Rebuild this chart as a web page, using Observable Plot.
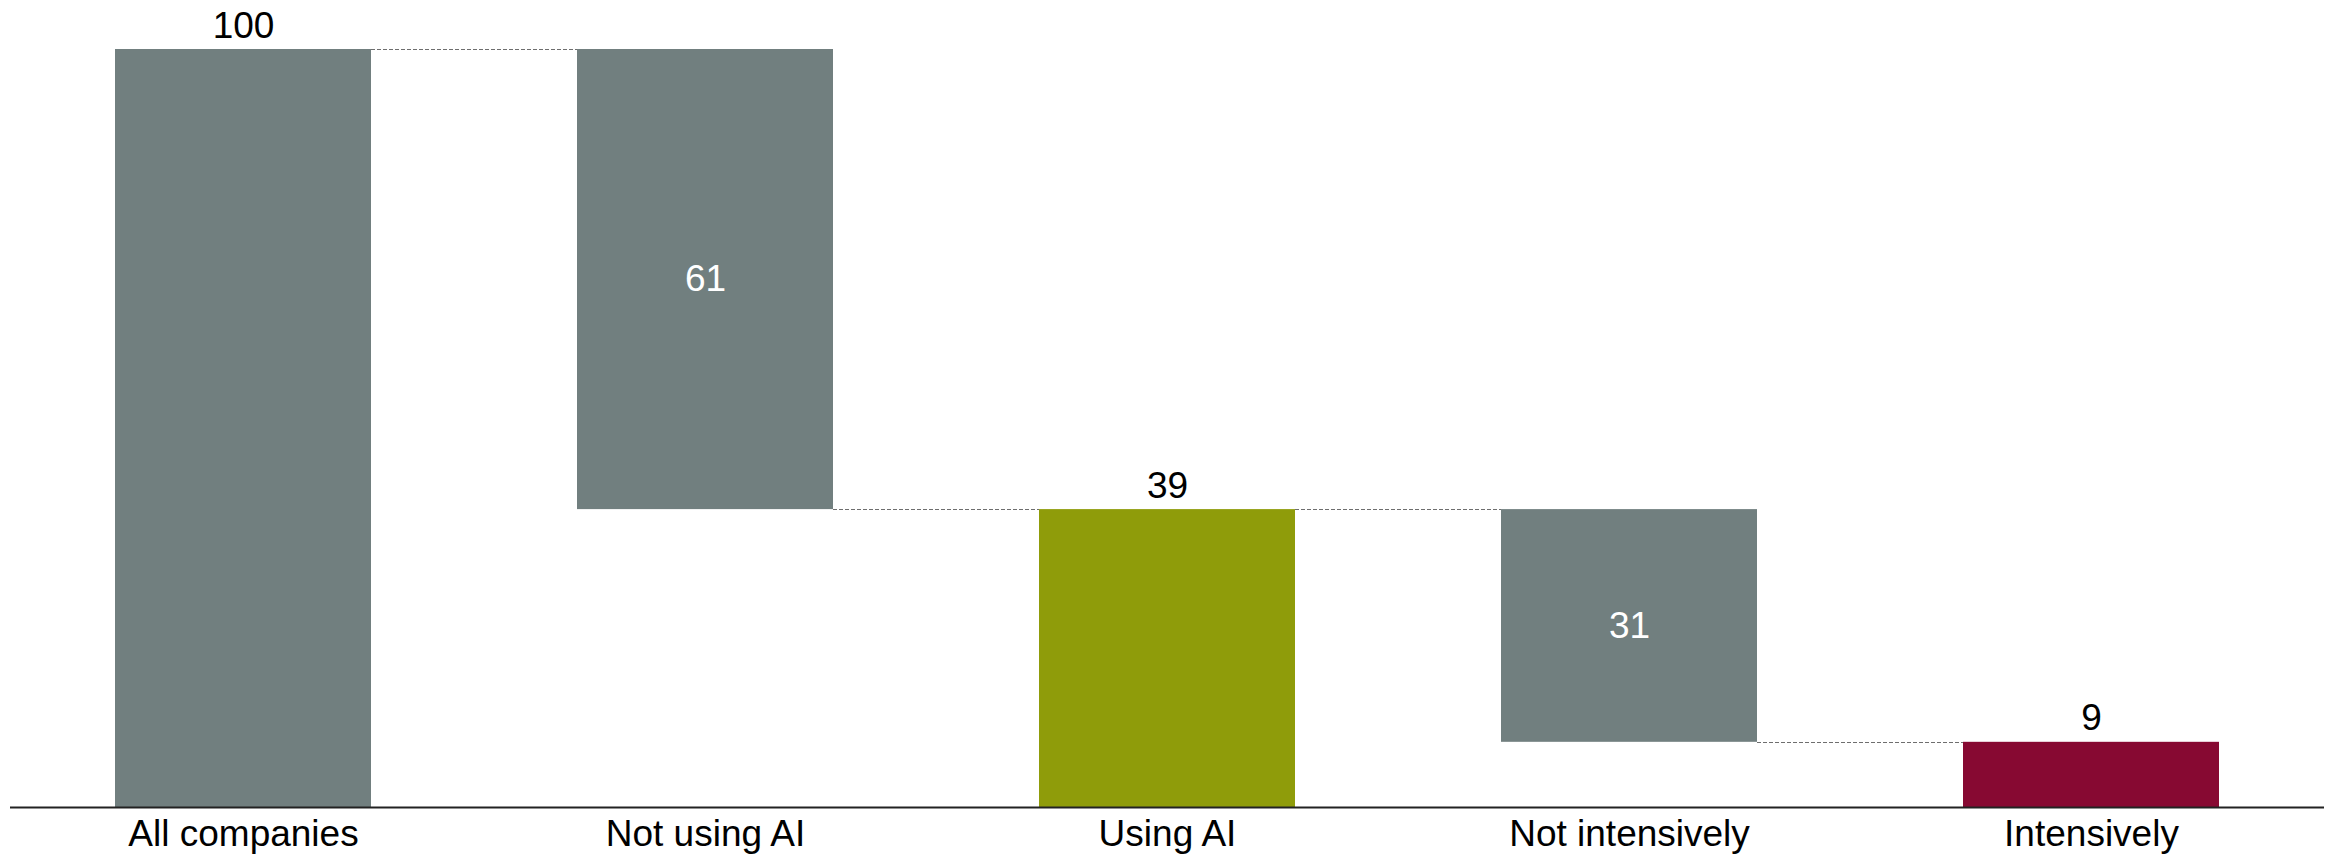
<!DOCTYPE html>
<html>
<head>
<meta charset="utf-8">
<script src="https://cdn.jsdelivr.net/npm/d3@7"></script>
<script src="https://cdn.jsdelivr.net/npm/@observablehq/plot@0.6"></script>
<style>
  html, body { margin: 0; padding: 0; background: #fff; }
  #chart svg { display: block; }
</style>
</head>
<body>
<div id="chart"></div>
<script>
// Waterfall: share of companies, split by AI use
const categories = ["All companies", "Not using AI", "Using AI", "Not intensively", "Intensively"];
const values = [100, 60.7, 39.3, 30.7, 8.6];
const kinds = ["total", "decrease", "total", "decrease", "total"];
const barColors = ["#717f7f", "#717f7f", "#8f9c0a", "#717f7f", "#870932"];

// Running level: totals start at zero, decreases hang from the previous level
let level = 0;
const bars = categories.map((category, i) => {
  const v = values[i];
  let y1, y2;
  if (kinds[i] === "total") { y1 = 0; y2 = v; level = v; }
  else { y2 = level; y1 = level - v; level = y1; }
  return { category, kind: kinds[i], value: v, y1, y2, label: String(Math.round(v)) };
});

// Dashed connectors from each bar's end level to the next bar
const connectors = bars.slice(0, -1).map((b, i) => ({
  from: b.category,
  to: bars[i + 1].category,
  level: b.kind === "total" ? b.y2 : b.y1
}));

function connectorMark(index, scales) {
  const x = scales.x;
  const y = scales.y;
  const bw = x.bandwidth ? x.bandwidth() : scales.scales.x.bandwidth;
  const g = d3.create("svg:g");
  for (const c of connectors) {
    const yy = Math.round(y(c.level)) + 0.5;
    g.append("line")
      .attr("x1", x(c.from) + bw)
      .attr("x2", x(c.to))
      .attr("y1", yy)
      .attr("y2", yy)
      .attr("stroke", "#6e6e6e")
      .attr("stroke-width", 1.2)
      .attr("stroke-dasharray", "4,2");
  }
  return g.node();
}

const chart = Plot.plot({
  width: 2333,
  height: 860,
  marginLeft: 10,
  marginRight: 9,
  marginTop: 49,
  marginBottom: 53,
  style: { fontFamily: "'Liberation Sans', Arial, sans-serif", fontSize: "37px", color: "#000", background: "#fff" },
  x: { domain: categories, paddingInner: 0.445, paddingOuter: 0.2225, label: null },
  y: { domain: [0, 100], axis: null },
  color: { domain: categories, range: barColors },
  marks: [
    Plot.barY(bars, { x: "category", y1: "y1", y2: "y2", fill: "category" }),
    connectorMark,
    // totals labelled above the bar
    Plot.text(bars.filter(d => d.kind === "total"), {
      x: "category", y: "y2", text: "label", lineAnchor: "bottom", dy: -12,
      fill: "#000", fontSize: 37
    }),
    // decreases labelled inside the bar
    Plot.text(bars.filter(d => d.kind === "decrease"), {
      x: "category", y: d => (d.y1 + d.y2) / 2, text: "label",
      fill: "#fff", fontSize: 37
    }),
    Plot.ruleY([0], { stroke: "#222", strokeWidth: 2 }),
    Plot.axisX({ tickSize: 0, tickPadding: 12, fontSize: 37, fill: "#000", label: null })
  ]
});

document.getElementById("chart").append(chart);
</script>
</body>
</html>
